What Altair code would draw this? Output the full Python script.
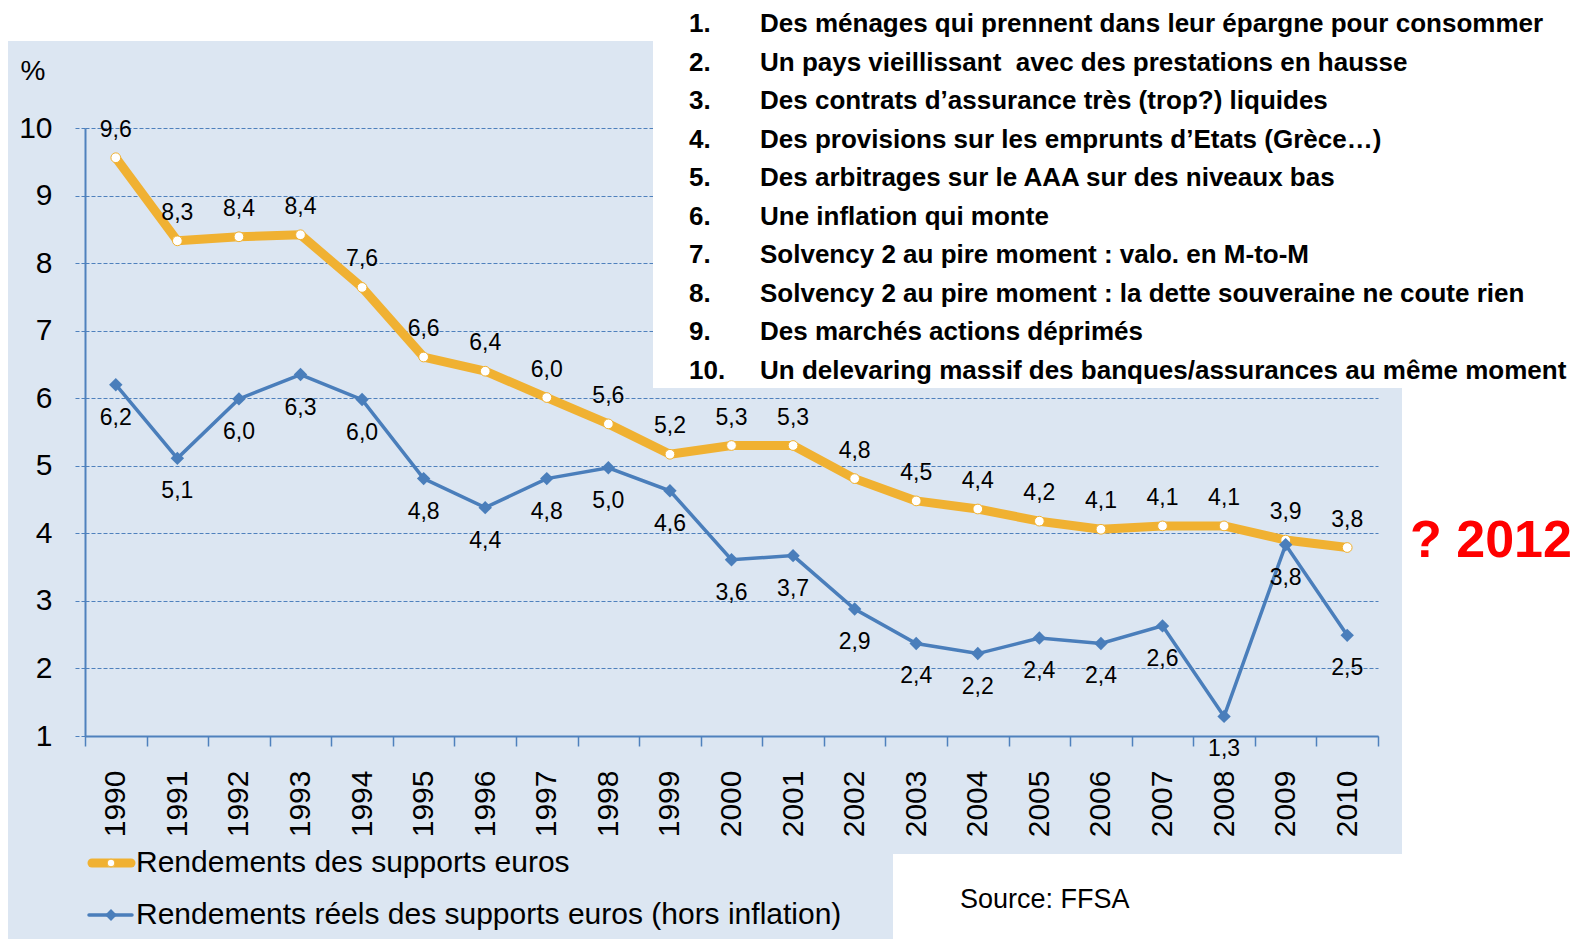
import altair as alt
import pandas as pd

# ---------------- data ----------------
years = [str(y) for y in range(1990, 2011)]
nominal = [9.56, 8.33, 8.39, 8.42, 7.64, 6.61, 6.40, 6.01, 5.62, 5.17, 5.30,
           5.30, 4.81, 4.48, 4.36, 4.18, 4.06, 4.11, 4.11, 3.90, 3.79]
nominal_labels = ["9,6", "8,3", "8,4", "8,4", "7,6", "6,6", "6,4", "6,0", "5,6", "5,2", "5,3",
                  "5,3", "4,8", "4,5", "4,4", "4,2", "4,1", "4,1", "4,1", "3,9", "3,8"]
real = [6.20, 5.11, 5.99, 6.35, 5.98, 4.81, 4.38, 4.81, 4.97, 4.63, 3.61,
        3.67, 2.88, 2.37, 2.22, 2.45, 2.37, 2.63, 1.29, 3.83, 2.49]
real_labels = ["6,2", "5,1", "6,0", "6,3", "6,0", "4,8", "4,4", "4,8", "5,0", "4,6", "3,6",
               "3,7", "2,9", "2,4", "2,2", "2,4", "2,4", "2,6", "1,3", "3,8", "2,5"]
y_ticks = [1, 2, 3, 4, 5, 6, 7, 8, 9, 10]
series_names = ["Rendements des supports euros",
                "Rendements réels des supports euros (hors inflation)"]
list_numbers = ["1.", "2.", "3.", "4.", "5.", "6.", "7.", "8.", "9.", "10."]
list_items = [
    "Des ménages qui prennent dans leur épargne pour consommer",
    "Un pays vieillissant\u00a0 avec des prestations en hausse",
    "Des contrats d’assurance très (trop?) liquides",
    "Des provisions sur les emprunts d’Etats (Grèce…)",
    "Des arbitrages sur le AAA sur des niveaux bas",
    "Une inflation qui monte",
    "Solvency 2 au pire moment : valo. en M-to-M",
    "Solvency 2 au pire moment : la dette souveraine ne coute rien",
    "Des marchés actions déprimés",
    "Un delevaring massif des banques/assurances au même moment",
]
y_unit = "%"
annotation = "? 2012"
source = "Source: FFSA"

# ---------------- styles ----------------
ORANGE = "#F0B132"
BLUE = "#4A7EBB"
AXIS_BLUE = "#4F81BD"
PANEL = "#DCE6F2"
FONT = "Liberation Sans"

df = pd.DataFrame({"year": years, "nominal": nominal, "nominal_label": nominal_labels,
                   "real": real, "real_label": real_labels})
one = pd.DataFrame({"k": [0]})

x_scale = alt.Scale(type="band", domain=years, paddingInner=0, paddingOuter=0)
y_scale = alt.Scale(domain=[1, 10], nice=False, zero=False)

x_axis = alt.Axis(title=None, labelAngle=-90, labelFont=FONT, labelFontSize=30,
                  labelColor="black", labelPadding=24, tickSize=10, tickBand="extent",
                  tickColor=AXIS_BLUE, tickWidth=1.5, domainColor=AXIS_BLUE,
                  domainWidth=2, grid=False, labelOverlap=False)
y_axis = alt.Axis(title=None, values=y_ticks, labelFont=FONT, labelFontSize=30,
                  labelColor="black", labelPadding=21, tickSize=12, tickColor=AXIS_BLUE,
                  tickDash=[4, 2], tickWidth=1, domainColor=AXIS_BLUE, domainWidth=2,
                  grid=True, gridColor=AXIS_BLUE, gridDash=[4, 2], gridWidth=1,
                  gridOpacity=1, labelOverlap=False)

X = alt.X("year:O", scale=x_scale, bandPosition=0.5, axis=x_axis)


def Y(field):
    return alt.Y(field, scale=y_scale, axis=y_axis)


def box(x1, x2, y1, y2, color):
    return alt.Chart(one).mark_rect(color=color, opacity=1).encode(
        x=alt.value(x1), x2=alt.value(x2), y=alt.value(y1), y2=alt.value(y2))


def label(text, x, y, **kw):
    return alt.Chart(one).mark_text(text=text, **kw).encode(x=alt.value(x), y=alt.value(y))


# white areas around the light blue panel
white_top = box(-90, 1510, -130, -87, "white")
white_right = box(1317, 1510, -130, 830, "white")
white_bottom = box(808, 1317, 726, 830, "white")
white_list = box(568, 1510, -130, 260, "white")

base = alt.Chart(df)
orange_line = base.mark_line(color=ORANGE, strokeWidth=9, strokeJoin="round",
                             strokeCap="round").encode(x=X, y=Y("nominal:Q"))
orange_pts = base.mark_point(shape="circle", filled=True, fill="white", stroke=ORANGE,
                             strokeWidth=1, size=95, opacity=1).encode(x=X, y=Y("nominal:Q"))
blue_line = base.mark_line(color=BLUE, strokeWidth=3.5).encode(x=X, y=Y("real:Q"))
blue_pts = base.mark_point(shape="diamond", filled=True, color=BLUE, size=180,
                           opacity=1).encode(x=X, y=Y("real:Q"))
orange_txt = base.mark_text(dy=-28, font=FONT, fontSize=23, color="black").encode(
    x=X, y=Y("nominal:Q"), text="nominal_label:N")
blue_txt = base.mark_text(dy=33, font=FONT, fontSize=23, color="black").encode(
    x=X, y=Y("real:Q"), text="real_label:N")

# legend (manual)
leg_o_line = alt.Chart(one).mark_rule(color=ORANGE, strokeWidth=9, strokeCap="round").encode(
    x=alt.value(7), x2=alt.value(46), y=alt.value(735))
leg_o_pt = alt.Chart(one).mark_point(shape="circle", filled=True, fill="white",
                                     stroke=ORANGE, strokeWidth=1, size=60,
                                     opacity=1).encode(x=alt.value(26), y=alt.value(735))
leg_b_line = alt.Chart(one).mark_rule(color=BLUE, strokeWidth=3.5, strokeCap="round").encode(
    x=alt.value(4), x2=alt.value(47), y=alt.value(787))
leg_b_pt = alt.Chart(one).mark_point(shape="diamond", filled=True, color=BLUE, size=140,
                                     opacity=1).encode(x=alt.value(26), y=alt.value(787))
leg_o_txt = label(series_names[0], 51, 735, font=FONT, fontSize=30, align="left",
                  baseline="middle", color="black")
leg_b_txt = label(series_names[1], 51, 787, font=FONT, fontSize=30, align="left",
                  baseline="middle", color="black")

pct = label(y_unit, -52, -56, font=FONT, fontSize=28, align="center",
            baseline="middle", color="black")
q2012 = label(annotation, 1325, 413, font=FONT, fontSize=52, fontWeight="bold",
              align="left", baseline="middle", color="#FF0000")
src = label(source, 875, 772, font=FONT, fontSize=27, align="left",
            baseline="middle", color="black")
nums = label(list_numbers, 604, -96, font=FONT, fontSize=26, fontWeight="bold",
             align="left", baseline="alphabetic", lineHeight=38.5, color="black")
items = label(list_items, 675, -96, font=FONT, fontSize=26, fontWeight="bold",
              align="left", baseline="alphabetic", lineHeight=38.5, color="black")

chart = alt.layer(
    orange_line, white_top, white_right, white_bottom, white_list,
    orange_pts, blue_line, blue_pts, orange_txt, blue_txt,
    leg_o_line, leg_o_pt, leg_b_line, leg_b_pt, leg_o_txt, leg_b_txt,
    pct, q2012, src, nums, items,
).properties(
    width=1293, height=608,
    autosize=alt.AutoSizeParams(type="none"),
    padding={"left": 77, "top": 120, "right": 199, "bottom": 203},
    background=PANEL,
).configure_view(stroke=None)

chart.save("out.html", embed_options={"renderer": "svg", "actions": False})
